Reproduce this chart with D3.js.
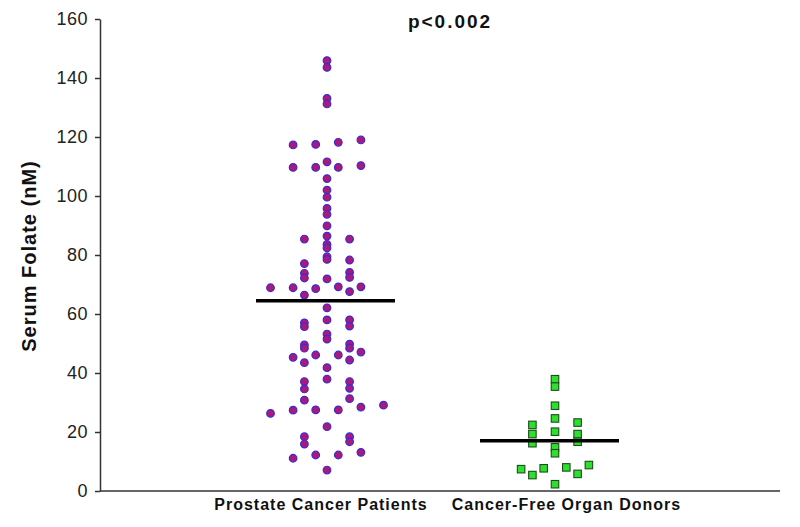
<!DOCTYPE html>
<html>
<head>
<meta charset="utf-8">
<script src="https://cdn.jsdelivr.net/npm/d3@7"></script>
<style>
  html, body { margin: 0; padding: 0; background: #fff; }
  svg { display: block; }
  text { font-family: "Liberation Sans", Arial, sans-serif; }
</style>
</head>
<body>
<svg id="chart" width="800" height="527"></svg>
<script>
// ---- data ----
const categories = ["Prostate Cancer Patients", "Cancer-Free Organ Donors"];
const yTicks = [0, 20, 40, 60, 80, 100, 120, 140, 160];
const title = "p<0.002";
const yLabel = "Serum Folate (nM)";
// [value, column slot in the scatter]
const prostateValues = [
  [145.9,0],[143.6,0],[133.1,0],[131.2,0],
  [117.3,-3],[117.5,-1],[118.2,1],[119.0,3],
  [111.6,0],
  [109.7,-3],[109.7,-1],[109.7,1],[110.3,3],
  [105.9,0],[102.0,0],[99.6,0],[95.8,0],[93.8,0],[89.9,0],[86.4,0],
  [85.4,-2],[85.4,2],
  [83.6,0],[82.4,0],[79.4,0],[78.5,0],
  [77.1,-2],[73.8,-2],[72.2,-2],
  [78.3,2],[74.1,2],[72.4,2],
  [71.9,0],
  [68.9,-5],[68.9,-3],[68.6,-1],[69.2,1],[69.2,3],
  [67.6,2],[66.4,-2],
  [62.1,0],[58.0,0],
  [57.0,-2],[55.7,-2],[58.0,2],[55.9,2],
  [53.2,0],[51.5,0],
  [49.5,-2],[48.4,-2],[49.8,2],[48.4,2],
  [47.1,3],[45.3,-3],[46.1,-1],[46.1,1],
  [43.5,-2],[44.4,2],
  [41.8,0],[37.9,0],
  [37.1,-2],[34.6,-2],[37.1,2],[34.8,2],
  [30.8,-2],[31.3,2],
  [29.1,5],[28.4,3],[26.3,-5],[27.4,-3],[27.5,-1],[27.5,1],
  [21.8,0],
  [18.4,-2],[15.9,-2],[18.4,2],[16.7,2],
  [13.1,3],[11.1,-3],[12.2,-1],[12.2,1],
  [7.1,0]
];
const donorValues = [
  [37.9,0],[35.4,0],[28.9,0],[24.6,0],[20.1,0],[14.8,0],[12.8,0],[2.3,0],
  [22.4,-2],[19.3,-2],[16.2,-2],
  [23.2,2],[19.3,2],[16.7,2],
  [7.4,-3],[5.4,-2],[7.7,-1],[8.0,1],[5.8,2],[8.8,3]
];
const means = [64.5, 17.0];

// ---- layout ----
const svg = d3.select("#chart");
const y = d3.scaleLinear().domain([0, 160]).range([491, 19]);
const x = d3.scalePoint().domain(categories).range([327, 555]);
const slot = 11.3;

// y axis
const yAxis = svg.append("g")
  .attr("transform", "translate(100,0)")
  .call(d3.axisLeft(y).tickValues(yTicks).tickSize(5).tickPadding(7).tickSizeOuter(0));
yAxis.select(".domain").attr("stroke", "#333").attr("stroke-width", 1.5);
yAxis.selectAll(".tick line").attr("stroke", "#333").attr("stroke-width", 1.5);
yAxis.selectAll(".tick text")
  .attr("font-size", 18).attr("fill", "#222")
  .attr("letter-spacing", 0.5)
  .attr("font-family", "'Liberation Sans', Arial, sans-serif");

// x axis line
svg.append("line")
  .attr("x1", 100).attr("x2", 780)
  .attr("y1", y(0)).attr("y2", y(0))
  .attr("stroke", "#333").attr("stroke-width", 1.5);

// category labels
const labelShift = [-6, 11.5];
svg.selectAll(".cat").data(categories).join("text")
  .attr("class", "cat")
  .attr("x", (d, i) => x(d) + labelShift[i])
  .attr("y", 510)
  .attr("text-anchor", "middle")
  .attr("font-size", 16).attr("font-weight", "bold").attr("fill", "#111")
  .attr("letter-spacing", 1)
  .text(d => d);

// y label
svg.append("text")
  .attr("transform", `translate(36,${256}) rotate(-90)`)
  .attr("text-anchor", "middle")
  .attr("font-size", 20).attr("font-weight", "bold").attr("fill", "#111")
  .attr("letter-spacing", 1)
  .text(yLabel);

// title
svg.append("text")
  .attr("x", 450).attr("y", 27.5)
  .attr("text-anchor", "middle")
  .attr("font-size", 19).attr("font-weight", "bold").attr("fill", "#111")
  .attr("letter-spacing", 2)
  .text(title);

// prostate points
svg.append("g").selectAll("circle").data(prostateValues).join("circle")
  .attr("cx", d => x(categories[0]) + d[1] * slot)
  .attr("cy", d => y(d[0]))
  .attr("r", 3.8)
  .attr("fill", "#a8197a")
  .attr("stroke", "#3a2ad8")
  .attr("stroke-width", 1.2);

// donor points
const sq = 7.5;
svg.append("g").selectAll("rect").data(donorValues).join("rect")
  .attr("x", d => x(categories[1]) + d[1] * slot - sq / 2)
  .attr("y", d => y(d[0]) - sq / 2)
  .attr("width", sq).attr("height", sq)
  .attr("fill", "#2ee02e")
  .attr("stroke", "#1d4d1d")
  .attr("stroke-width", 1.1);

// mean lines
const lineShift = [-1.5, -5.5];
svg.append("g").selectAll("line").data(means).join("line")
  .attr("x1", (d, i) => x(categories[i]) + lineShift[i] - 69.5)
  .attr("x2", (d, i) => x(categories[i]) + lineShift[i] + 69.5)
  .attr("y1", d => y(d)).attr("y2", d => y(d))
  .attr("stroke", "#000").attr("stroke-width", 3.5);
</script>
</body>
</html>
